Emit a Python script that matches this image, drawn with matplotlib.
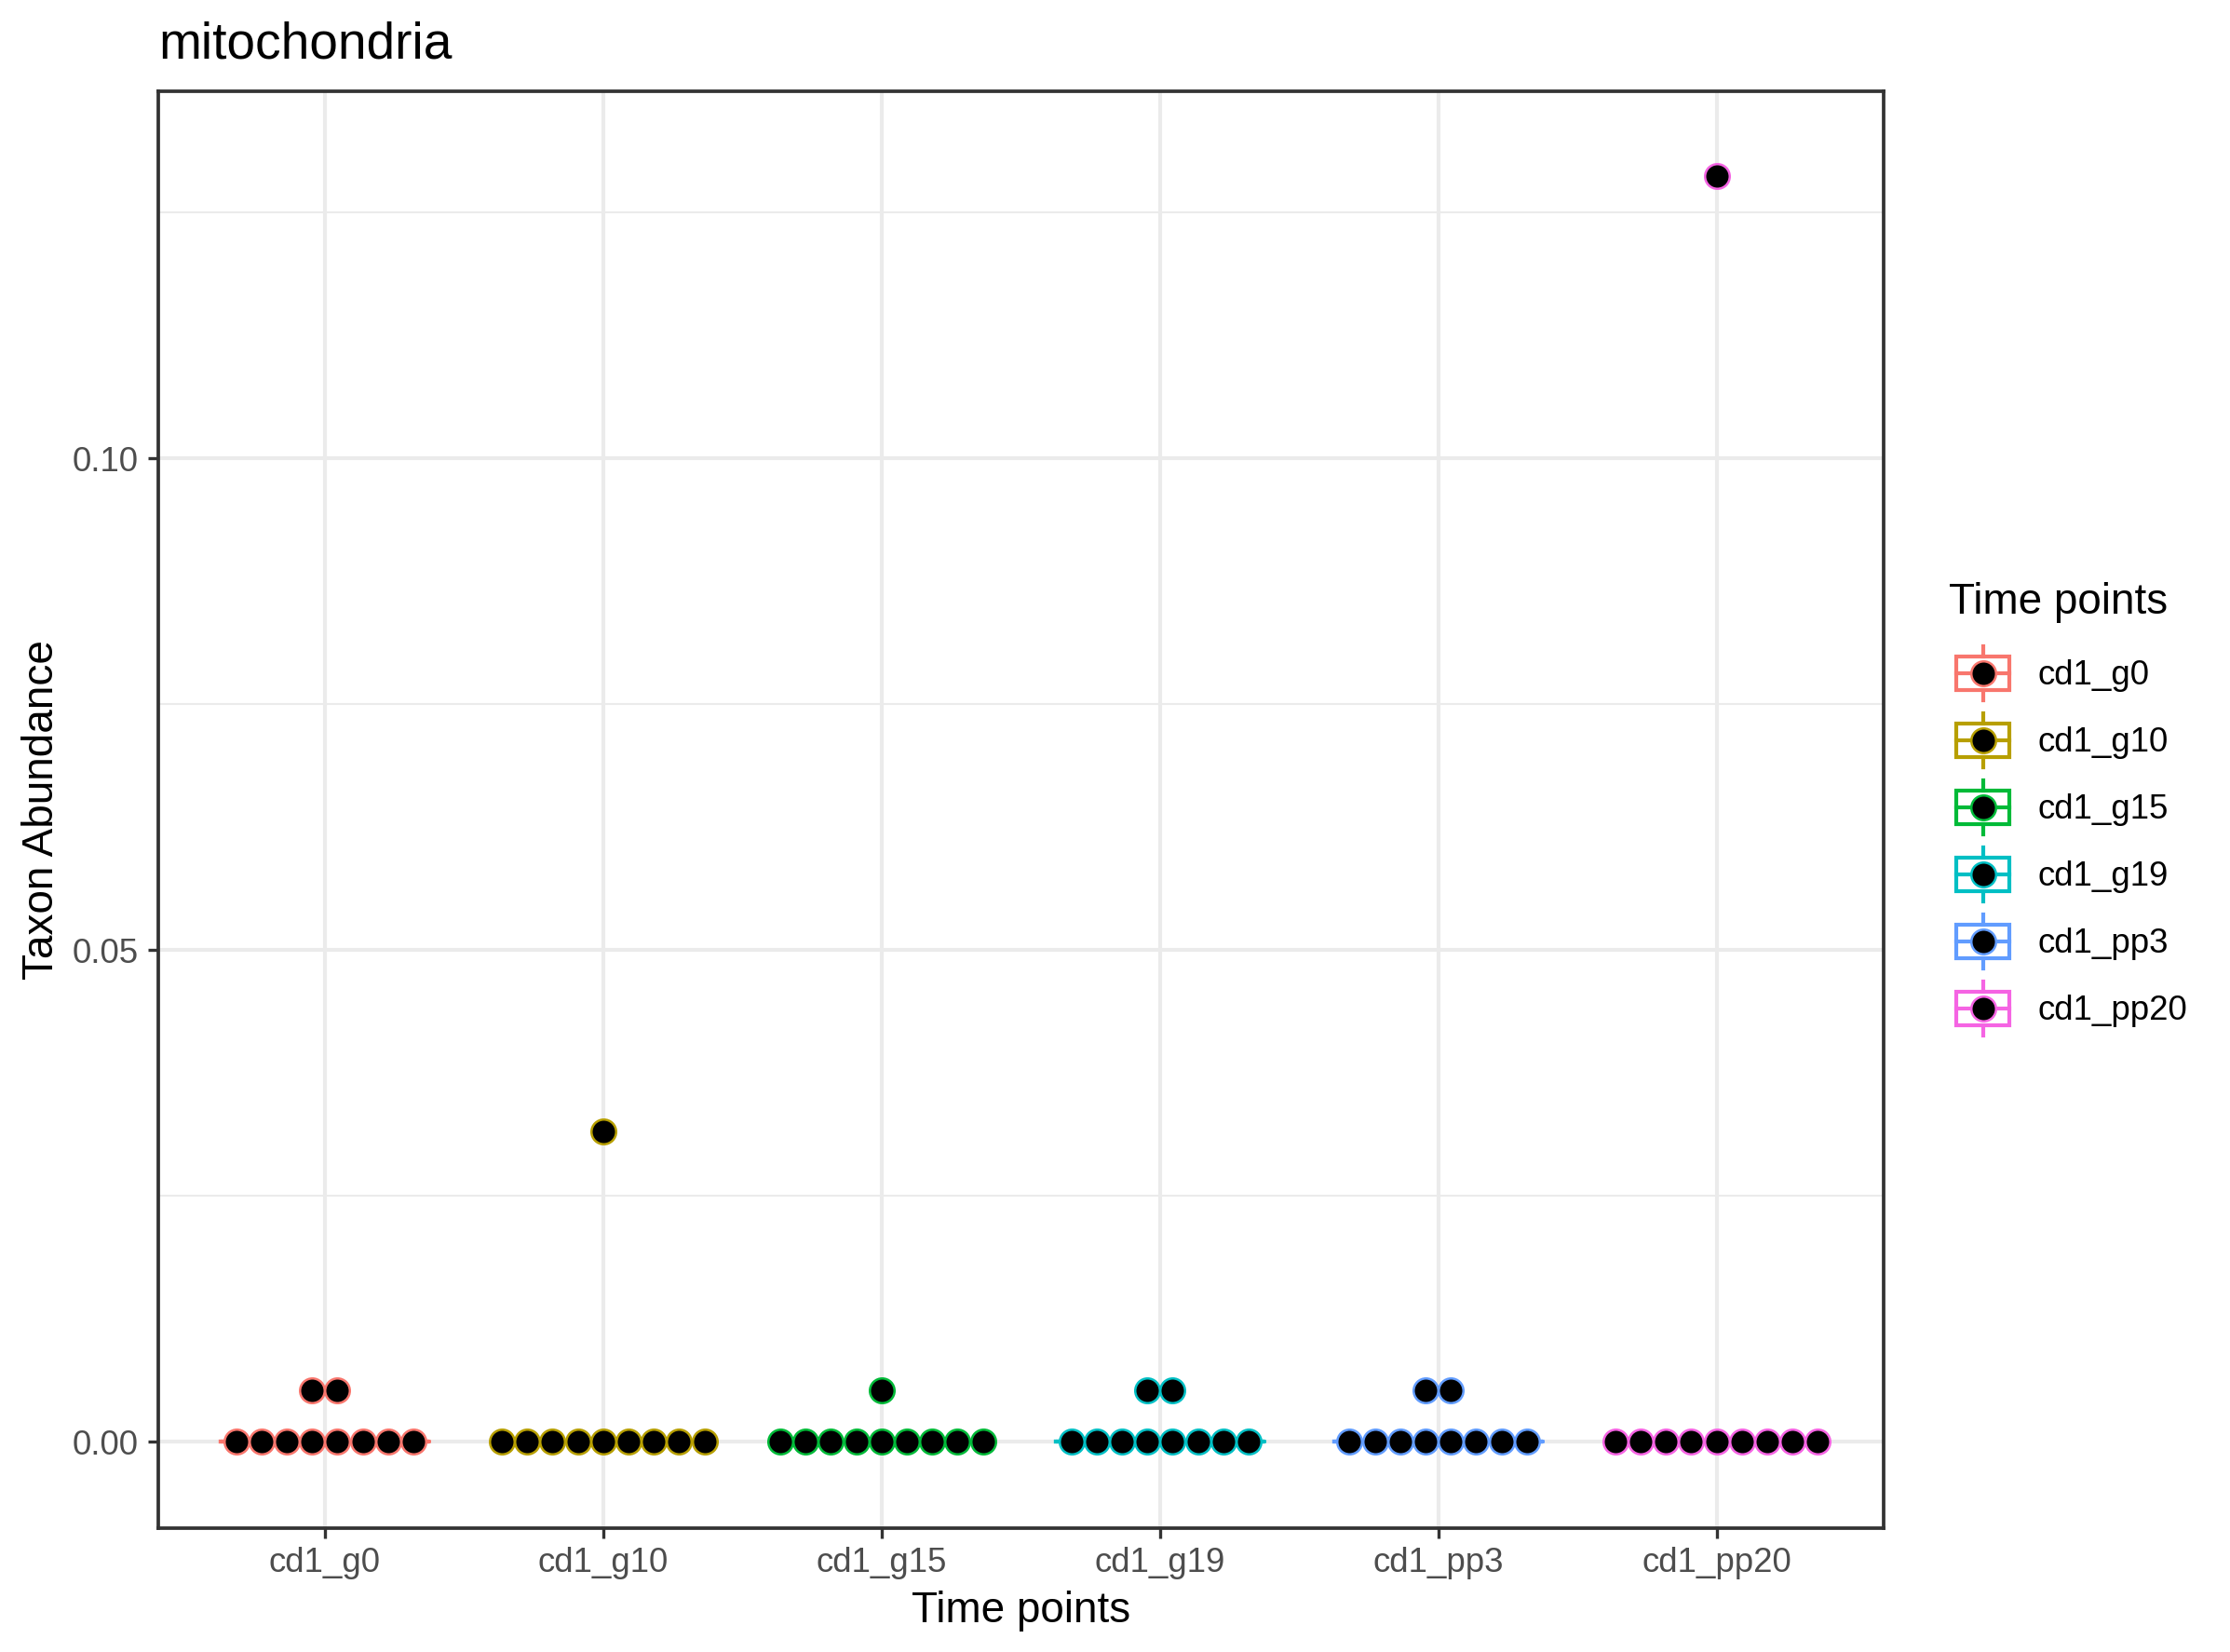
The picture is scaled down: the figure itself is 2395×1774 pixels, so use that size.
import numpy as np
import matplotlib.pyplot as plt
from matplotlib.patches import Rectangle

plt.rcParams['font.family'] = ['Liberation Sans', 'DejaVu Sans']

# data
categories = ['cd1_g0', 'cd1_g10', 'cd1_g15', 'cd1_g19', 'cd1_pp3', 'cd1_pp20']
colors = ['#F8766D', '#B79F00', '#00BA38', '#00BFC4', '#619CFF', '#F564E3']
g0 = [0, 0, 0, 0, 0, 0, 0, 0, 0.0052, 0.0052]
g10 = [0, 0, 0, 0, 0, 0, 0, 0, 0, 0.0315]
g15 = [0, 0, 0, 0, 0, 0, 0, 0, 0, 0.0052]
g19 = [0, 0, 0, 0, 0, 0, 0, 0, 0.0052, 0.0052]
pp3 = [0, 0, 0, 0, 0, 0, 0, 0, 0.0052, 0.0052]
pp20 = [0, 0, 0, 0, 0, 0, 0, 0, 0, 0.1287]
abundance = [g0, g10, g15, g19, pp3, pp20]
yticks = [0.00, 0.05, 0.10]
ytick_labels = ['0.00', '0.05', '0.10']
yminor = [0.025, 0.075, 0.125]

# layout (pixels)
W, H, DPI = 2395, 1774, 300
L, R, T, B = 169.5, 2023, 98.3, 1640.7
pt = 72 / DPI  # px -> pt

fig = plt.figure(figsize=(W / DPI, H / DPI), dpi=DPI)
ax = fig.add_axes([L / W, 1 - B / H, (R - L) / W, (B - T) / H])
ax.set_xlim(0.4, 6.6)
ax.set_ylim(-0.00878, 0.13733)

x = np.arange(1, len(categories) + 1)
ax.set_xticks(x)
ax.set_xticklabels(categories)
ax.set_yticks(yticks)
ax.set_yticklabels(ytick_labels)
ax.set_yticks(yminor, minor=True)
ax.set_axisbelow(True)
ax.grid(which='major', color='#EBEBEB', lw=1.0)
ax.grid(which='minor', axis='y', color='#EBEBEB', lw=0.5)
ax.tick_params(which='major', length=2.75, width=0.8, color='#333333',
               labelsize=8.8, labelcolor='#4D4D4D', pad=2.2)
ax.tick_params(which='minor', length=0)
for s in ax.spines.values():
    s.set_color('#333333')
    s.set_linewidth(0.9)

# boxplots (collapse to zero)
bp = ax.boxplot(abundance, positions=x, widths=0.75, showfliers=False,
                showcaps=False, manage_ticks=False)
for i, c in enumerate(colors):
    bp['boxes'][i].set(color=c, lw=1.0)
    bp['medians'][i].set(color=c, lw=1.0)
    bp['whiskers'][2 * i].set(color=c, lw=1.0)
    bp['whiskers'][2 * i + 1].set(color=c, lw=1.0)

# dot stacks, centred on each category
px_per_unit = (R - L) / 6.2
dx = 27.2 / px_per_unit
ms, mew = 26.5 * pt, 2.5 * pt
for i, vals in enumerate(abundance):
    vals = np.array(vals)
    for v in np.unique(vals):
        n = int(np.sum(vals == v))
        off = (np.arange(n) - (n - 1) / 2) * dx
        ax.plot(x[i] + off, np.full(n, v), 'o', ms=ms, mfc='black', mec=colors[i],
                mew=mew, zorder=3, clip_on=False)

# texts and legend in pixel coordinates
lax = fig.add_axes([0, 0, 1, 1])
lax.set_xlim(0, W)
lax.set_ylim(H, 0)
lax.axis('off')
lax.text(L + 1, 62.7, 'mitochondria', fontsize=13.2, va='baseline', ha='left')
lax.text((L + R) / 2, 1741.7, 'Time points', fontsize=11, va='baseline', ha='center')
lax.text(57, (T + B) / 2, 'Taxon Abundance', fontsize=11, rotation=90,
         rotation_mode='anchor', va='baseline', ha='center')

lax.text(2093, 659, 'Time points', fontsize=11, va='baseline', ha='left')
key = 72
cx = 2129.5
for k, (name, c) in enumerate(zip(categories, colors)):
    cy = 722.7 + k * key
    lax.add_patch(Rectangle((cx - 0.4 * key, cy - 0.25 * key), 0.8 * key, 0.5 * key,
                            fill=False, ec=c, lw=1.0))
    lax.plot([cx - 0.4 * key, cx + 0.4 * key], [cy, cy], color=c, lw=1.0)
    lax.plot([cx, cx], [cy - 0.4 * key, cy - 0.25 * key], color=c, lw=1.0)
    lax.plot([cx, cx], [cy + 0.25 * key, cy + 0.4 * key], color=c, lw=1.0)
    lax.plot([cx], [cy], 'o', ms=ms, mfc='black', mec=c, mew=mew)
    lax.text(2188, cy + 12.5, name, fontsize=8.8, va='baseline', ha='left')

fig.savefig('out.png', dpi=DPI)
